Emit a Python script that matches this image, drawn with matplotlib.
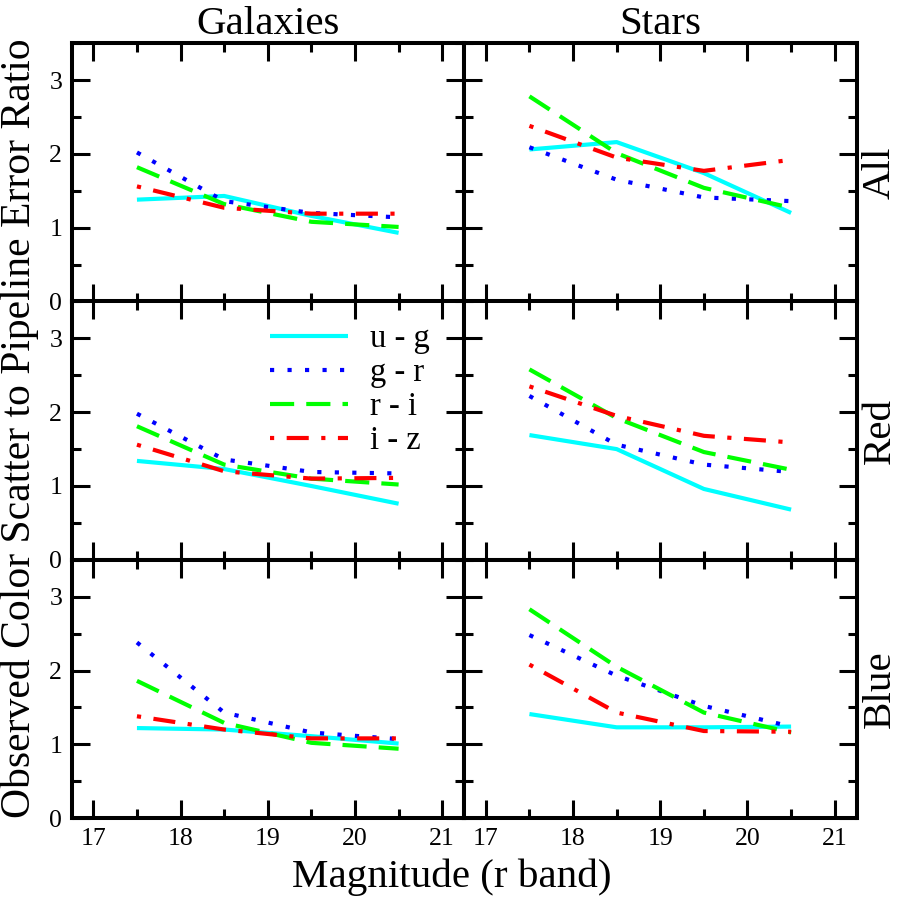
import matplotlib.pyplot as plt
from matplotlib.ticker import MultipleLocator

plt.rcParams["font.family"] = ["Liberation Serif", "DejaVu Serif"]

mag = [17.5, 18.5, 19.5, 20.5]
col_titles = ["Galaxies", "Stars"]
row_titles = ["All", "Red", "Blue"]
color_names = ["u - g", "g - r", "r - i", "i - z"]

# one list per colour (u-g, g-r, r-i, i-z)
gal_all = [[1.38, 1.43, 1.16, 0.93],
           [2.02, 1.36, 1.20, 1.14],
           [1.82, 1.32, 1.08, 1.01],
           [1.56, 1.27, 1.19, 1.19]]
star_all = [[2.06, 2.16, 1.74, 1.20],
            [2.09, 1.65, 1.41, 1.36],
            [2.78, 2.01, 1.54, 1.27],
            [2.38, 1.95, 1.77, 1.92]]
gal_red = [[1.34, 1.23, 1.00, 0.76],
           [1.98, 1.36, 1.19, 1.17],
           [1.81, 1.29, 1.10, 1.02],
           [1.56, 1.20, 1.10, 1.11]]
star_red = [[1.69, 1.50, 0.96, 0.68],
            [2.22, 1.56, 1.29, 1.19],
            [2.58, 1.92, 1.46, 1.22],
            [2.35, 1.95, 1.68, 1.59]]
gal_blue = [[1.22, 1.20, 1.11, 1.01],
            [2.38, 1.43, 1.16, 1.07],
            [1.86, 1.29, 1.02, 0.94],
            [1.38, 1.20, 1.08, 1.08]]
star_blue = [[1.41, 1.23, 1.23, 1.24],
             [2.48, 1.93, 1.52, 1.24],
             [2.83, 2.05, 1.43, 1.16],
             [2.08, 1.43, 1.18, 1.17]]

paneles = [[gal_all, star_all], [gal_red, star_red], [gal_blue, star_blue]]

cores = ["#00ffff", "#0000ff", "#00ff00", "#ff0000"]
estilos = [(0, ()), (0, (1, 3.2)), (0, (5.8, 2.9)), (0, (1, 3, 5.3, 3))]

fig, axes = plt.subplots(3, 2, figsize=(9.03, 9.0), dpi=100, sharex=True, sharey=True)
fig.subplots_adjust(left=0.0797, right=0.949, top=0.952, bottom=0.091, wspace=0, hspace=0)

for i in range(3):
    for j in range(2):
        ax = axes[i, j]
        for k, nome in enumerate(color_names):
            ax.plot(mag, paneles[i][j][k], color=cores[k], linestyle=estilos[k],
                    linewidth=3, label=nome)
        ax.set_xlim(16.755, 21.255)
        ax.set_ylim(0, 3.5)
        ax.xaxis.set_major_locator(MultipleLocator(1))
        ax.xaxis.set_minor_locator(MultipleLocator(0.5))
        ax.yaxis.set_major_locator(MultipleLocator(1))
        ax.yaxis.set_minor_locator(MultipleLocator(0.5))
        ax.tick_params(which="both", direction="in", top=True, right=True, width=2.2)
        ax.tick_params(which="major", length=13, labelsize=18.5, pad=7)
        ax.tick_params(which="minor", length=6.5)
        for s in ax.spines.values():
            s.set_linewidth(2.9)
        if i == 0:
            ax.set_title(col_titles[j], fontsize=29.5, pad=5)
        if j == 1:
            ax.text(1.06, 0.5, row_titles[i], rotation=90, fontsize=29.5,
                    ha="center", va="center", transform=ax.transAxes)

axes[1, 0].legend(loc="upper left", bbox_to_anchor=(0.504, 0.915), frameon=False,
                  fontsize=23.5, handlelength=2.4, handletextpad=0.67,
                  labelspacing=0.11, borderpad=0, borderaxespad=0)

fig.text(0.5, 0.004, "Magnitude (r band)", fontsize=29.5, ha="center", va="bottom")
fig.text(0.022, 0.524, "Observed Color Scatter to Pipeline Error Ratio", fontsize=30,
         rotation=90, ha="center", va="center")

plt.savefig("out.png", dpi=100)
